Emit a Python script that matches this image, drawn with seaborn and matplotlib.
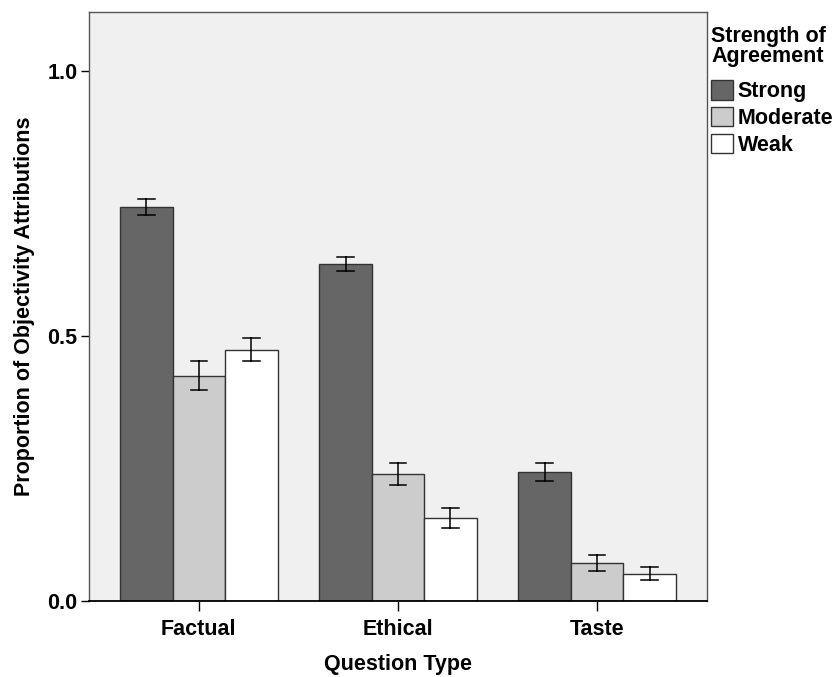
import numpy as np
import pandas as pd
import matplotlib
matplotlib.use("Agg")
import matplotlib.pyplot as plt
import seaborn as sns

# ---- data ----
question_types = ["Factual", "Ethical", "Taste"]
strengths = ["Strong", "Moderate", "Weak"]
strong_mean = [0.743, 0.635, 0.243]
moderate_mean = [0.425, 0.240, 0.072]
weak_mean = [0.474, 0.157, 0.052]
strong_err = [0.015, 0.0135, 0.017]
moderate_err = [0.027, 0.021, 0.015]
weak_err = [0.022, 0.019, 0.012]
bar_colors = ["#666666", "#cccccc", "#ffffff"]
y_ticks = [0.0, 0.5, 1.0]

means = {"Strong": strong_mean, "Moderate": moderate_mean, "Weak": weak_mean}
errs = {"Strong": strong_err, "Moderate": moderate_err, "Weak": weak_err}

rows = []
for s in strengths:
    for q, m, e in zip(question_types, means[s], errs[s]):
        rows.append({"Question Type": q, "Strength": s, "value": m - e})
        rows.append({"Question Type": q, "Strength": s, "value": m + e})
df = pd.DataFrame(rows)

plt.rcParams["font.family"] = ["Liberation Sans", "DejaVu Sans"]
plt.rcParams["font.weight"] = "bold"
FS = 15.5

fig = plt.figure(figsize=(8.35, 6.77), dpi=100)
ax = fig.add_axes([89.3 / 835, 1 - 601.3 / 677, (706.7 - 89.3) / 835, (601.3 - 11.7) / 677])
ax.set_facecolor("#f0f0f0")

sns.barplot(
    data=df, x="Question Type", y="value", hue="Strength",
    order=question_types, hue_order=strengths, palette=bar_colors,
    width=0.79, gap=0, saturation=1,
    errorbar=lambda v: (v.min(), v.max()),
    capsize=0.25, err_kws={"color": "black", "linewidth": 1.1},
    edgecolor="#333333", linewidth=1.0, ax=ax,
)

ax.set_xlim(-0.55, 2.55)
ax.set_ylim(0, 1.111)
ax.set_yticks(y_ticks)
ax.set_yticklabels([f"{t:.1f}" for t in y_ticks])

for side in ["top", "right", "left"]:
    ax.spines[side].set_color("#555555")
    ax.spines[side].set_linewidth(1.0)
ax.spines["bottom"].set_color("black")
ax.spines["bottom"].set_linewidth(1.3)

ax.tick_params(axis="y", length=6, width=1, pad=2.5, labelsize=FS, colors="black")
ax.tick_params(axis="x", length=7, width=1, pad=5.5, labelsize=FS, colors="black")

ax.set_xlabel("Question Type", fontsize=FS, fontweight="bold", labelpad=10.5)
ax.set_ylabel("Proportion of Objectivity Attributions", fontsize=FS, fontweight="bold")
ax.yaxis.set_label_coords(-0.088, 0.5)

old = ax.get_legend()
handles = old.legend_handles
labels = [t.get_text() for t in old.get_texts()]
old.remove()
for h in handles:
    h.set_edgecolor("#333333")
    h.set_linewidth(1.0)
leg = ax.legend(
    handles, labels, title="Strength of\nAgreement",
    loc="upper left", bbox_to_anchor=(711 / 835, 1 - 26 / 677),
    bbox_transform=fig.transFigure, frameon=False,
    fontsize=FS, title_fontsize=FS, borderaxespad=0, borderpad=0,
    handlelength=1.0, handleheight=1.0, handletextpad=0.25,
    labelspacing=0.22, alignment="left",
)
leg.get_title().set_fontweight("bold")
leg.get_title().set_linespacing(0.95)
leg._legend_box.sep = 9.5
for t in leg.get_texts():
    t.set_fontweight("bold")

fig.savefig("out.png", dpi=100)
